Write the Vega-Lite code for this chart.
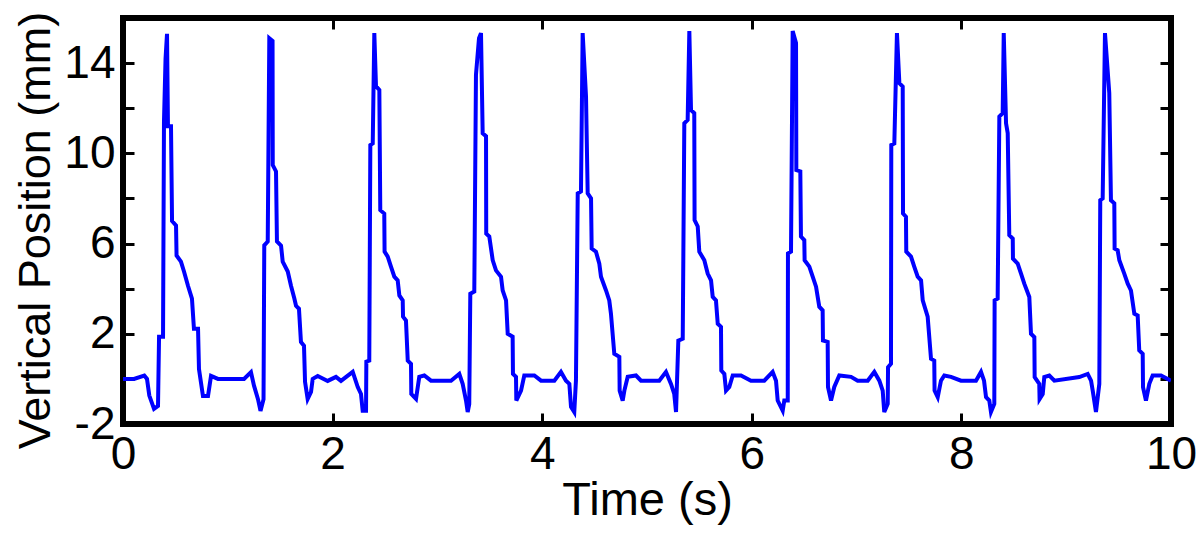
{
  "$schema": "https://vega.github.io/schema/vega-lite/v6.json",
  "autosize": "none",
  "width": 1048,
  "height": 406,
  "padding": {"left": 123, "top": 18, "right": 29, "bottom": 112},
  "background": "white",
  "config": {
    "view": {"stroke": "black", "strokeWidth": 6},
    "font": "Liberation Sans",
    "axis": {
      "domain": false,
      "grid": false,
      "tickColor": "black",
      "tickWidth": 3,
      "tickSize": -11,
      "labelColor": "black",
      "labelFont": "Liberation Sans",
      "labelFontSize": 46,
      "titleFont": "Liberation Sans",
      "titleFontSize": 47,
      "titleFontWeight": "normal",
      "titleColor": "black",
      "labelFlush": false,
      "labelOverlap": false
    }
  },
  "data": {
    "values": [
      {"t": 0, "v": 0}, {"t": 0.105, "v": 0}, {"t": 0.203, "v": 0.15}, {"t": 0.229, "v": 0},
      {"t": 0.251, "v": -0.74}, {"t": 0.296, "v": -1.33}, {"t": 0.334, "v": -1.2}, {"t": 0.344, "v": 1.87},
      {"t": 0.382, "v": 1.87}, {"t": 0.391, "v": 11.4}, {"t": 0.406, "v": 14.2}, {"t": 0.42, "v": 15.3},
      {"t": 0.429, "v": 11.2}, {"t": 0.458, "v": 11.2}, {"t": 0.468, "v": 7.0}, {"t": 0.506, "v": 6.8},
      {"t": 0.511, "v": 5.47}, {"t": 0.553, "v": 5.2}, {"t": 0.582, "v": 4.76}, {"t": 0.62, "v": 4.13},
      {"t": 0.658, "v": 3.56}, {"t": 0.677, "v": 2.22}, {"t": 0.716, "v": 2.22}, {"t": 0.725, "v": 0.44},
      {"t": 0.763, "v": -0.76}, {"t": 0.811, "v": -0.76}, {"t": 0.84, "v": 0.13}, {"t": 0.906, "v": 0},
      {"t": 1.155, "v": 0}, {"t": 1.221, "v": 0.3}, {"t": 1.25, "v": -0.3}, {"t": 1.288, "v": -0.9},
      {"t": 1.312, "v": -1.42}, {"t": 1.341, "v": -0.9}, {"t": 1.348, "v": 5.92}, {"t": 1.381, "v": 6.09},
      {"t": 1.396, "v": 15.1}, {"t": 1.427, "v": 14.98}, {"t": 1.429, "v": 9.48}, {"t": 1.46, "v": 9.2},
      {"t": 1.469, "v": 6.09}, {"t": 1.508, "v": 5.91}, {"t": 1.524, "v": 5.2}, {"t": 1.572, "v": 4.76},
      {"t": 1.603, "v": 4.13}, {"t": 1.635, "v": 3.56}, {"t": 1.651, "v": 3.24}, {"t": 1.679, "v": 3.11},
      {"t": 1.698, "v": 1.64}, {"t": 1.727, "v": 1.47}, {"t": 1.737, "v": -0.13}, {"t": 1.762, "v": -0.89},
      {"t": 1.794, "v": -0.58}, {"t": 1.81, "v": 0}, {"t": 1.858, "v": 0.13}, {"t": 1.953, "v": -0.09},
      {"t": 2.032, "v": 0.09}, {"t": 2.08, "v": -0.09}, {"t": 2.192, "v": 0.31}, {"t": 2.24, "v": -0.36},
      {"t": 2.271, "v": -0.67}, {"t": 2.287, "v": -1.41}, {"t": 2.319, "v": -1.41}, {"t": 2.322, "v": 0.76},
      {"t": 2.35, "v": 0.81}, {"t": 2.36, "v": 10.37}, {"t": 2.383, "v": 10.44}, {"t": 2.398, "v": 15.33},
      {"t": 2.414, "v": 12.98}, {"t": 2.446, "v": 12.81}, {"t": 2.455, "v": 7.48}, {"t": 2.493, "v": 7.33},
      {"t": 2.496, "v": 5.64}, {"t": 2.526, "v": 5.42}, {"t": 2.557, "v": 4.98}, {"t": 2.589, "v": 4.53},
      {"t": 2.621, "v": 4.37}, {"t": 2.637, "v": 3.7}, {"t": 2.669, "v": 3.48}, {"t": 2.672, "v": 2.76},
      {"t": 2.7, "v": 2.59}, {"t": 2.717, "v": 0.81}, {"t": 2.748, "v": 0.67}, {"t": 2.751, "v": -0.67},
      {"t": 2.796, "v": -0.89}, {"t": 2.827, "v": 0.09}, {"t": 2.875, "v": 0.15}, {"t": 2.939, "v": -0.08},
      {"t": 3.13, "v": -0.08}, {"t": 3.209, "v": 0.22}, {"t": 3.241, "v": -0.22}, {"t": 3.273, "v": -0.96},
      {"t": 3.289, "v": -1.47}, {"t": 3.304, "v": -1.11}, {"t": 3.314, "v": 3.78}, {"t": 3.352, "v": 3.87},
      {"t": 3.368, "v": 13.48}, {"t": 3.397, "v": 15.1}, {"t": 3.416, "v": 15.33}, {"t": 3.432, "v": 10.89},
      {"t": 3.464, "v": 10.76}, {"t": 3.466, "v": 6.44}, {"t": 3.495, "v": 6.31}, {"t": 3.528, "v": 5.26},
      {"t": 3.559, "v": 4.81}, {"t": 3.607, "v": 4.53}, {"t": 3.623, "v": 3.92}, {"t": 3.655, "v": 3.48},
      {"t": 3.671, "v": 2.0}, {"t": 3.718, "v": 1.87}, {"t": 3.721, "v": 0.22}, {"t": 3.75, "v": 0.09},
      {"t": 3.753, "v": -0.96}, {"t": 3.798, "v": -0.52}, {"t": 3.829, "v": 0.15}, {"t": 3.925, "v": 0.15},
      {"t": 3.989, "v": -0.08}, {"t": 4.116, "v": -0.08}, {"t": 4.179, "v": 0.31}, {"t": 4.227, "v": -0.08},
      {"t": 4.259, "v": -0.22}, {"t": 4.275, "v": -1.24}, {"t": 4.306, "v": -1.47}, {"t": 4.322, "v": -0.08},
      {"t": 4.339, "v": 8.22}, {"t": 4.37, "v": 8.31}, {"t": 4.386, "v": 15.33}, {"t": 4.418, "v": 12.53},
      {"t": 4.434, "v": 8.22}, {"t": 4.466, "v": 8.0}, {"t": 4.472, "v": 5.78}, {"t": 4.513, "v": 5.64},
      {"t": 4.545, "v": 5.11}, {"t": 4.561, "v": 4.53}, {"t": 4.609, "v": 3.92}, {"t": 4.64, "v": 3.48},
      {"t": 4.656, "v": 2.89}, {"t": 4.688, "v": 1.11}, {"t": 4.736, "v": 0.98}, {"t": 4.739, "v": -0.52},
      {"t": 4.768, "v": -0.96}, {"t": 4.784, "v": -0.52}, {"t": 4.816, "v": 0.09}, {"t": 4.895, "v": 0.15},
      {"t": 4.943, "v": -0.08}, {"t": 5.117, "v": -0.08}, {"t": 5.181, "v": 0.31}, {"t": 5.229, "v": -0.22},
      {"t": 5.26, "v": -0.67}, {"t": 5.277, "v": -1.47}, {"t": 5.299, "v": 1.7}, {"t": 5.341, "v": 1.78},
      {"t": 5.356, "v": 11.33}, {"t": 5.388, "v": 11.48}, {"t": 5.404, "v": 15.42}, {"t": 5.42, "v": 11.92},
      {"t": 5.451, "v": 11.78}, {"t": 5.454, "v": 7.04}, {"t": 5.484, "v": 6.76}, {"t": 5.499, "v": 5.64},
      {"t": 5.547, "v": 5.26}, {"t": 5.579, "v": 4.67}, {"t": 5.611, "v": 4.37}, {"t": 5.627, "v": 3.64},
      {"t": 5.658, "v": 3.48}, {"t": 5.675, "v": 2.44}, {"t": 5.706, "v": 2.31}, {"t": 5.709, "v": 0.37},
      {"t": 5.738, "v": 0.22}, {"t": 5.754, "v": -0.52}, {"t": 5.785, "v": -0.36}, {"t": 5.818, "v": 0.15},
      {"t": 5.897, "v": 0.15}, {"t": 5.992, "v": -0.08}, {"t": 6.119, "v": -0.08}, {"t": 6.199, "v": 0.31},
      {"t": 6.231, "v": -0.08}, {"t": 6.247, "v": -0.96}, {"t": 6.295, "v": -1.41}, {"t": 6.31, "v": -0.96},
      {"t": 6.343, "v": -0.96}, {"t": 6.345, "v": 5.56}, {"t": 6.374, "v": 5.64}, {"t": 6.39, "v": 15.42},
      {"t": 6.422, "v": 14.89}, {"t": 6.425, "v": 9.26}, {"t": 6.463, "v": 9.2}, {"t": 6.469, "v": 6.31},
      {"t": 6.501, "v": 6.15}, {"t": 6.504, "v": 5.26}, {"t": 6.549, "v": 4.98}, {"t": 6.581, "v": 4.53},
      {"t": 6.613, "v": 4.09}, {"t": 6.644, "v": 3.2}, {"t": 6.676, "v": 3.04}, {"t": 6.679, "v": 1.7},
      {"t": 6.724, "v": 1.64}, {"t": 6.727, "v": -0.36}, {"t": 6.756, "v": -0.96}, {"t": 6.787, "v": -0.36},
      {"t": 6.835, "v": 0.15}, {"t": 6.947, "v": 0.09}, {"t": 7.01, "v": -0.08}, {"t": 7.106, "v": -0.08},
      {"t": 7.169, "v": 0.31}, {"t": 7.217, "v": -0.08}, {"t": 7.249, "v": -0.52}, {"t": 7.264, "v": -1.47},
      {"t": 7.297, "v": -1.11}, {"t": 7.3, "v": 0.52}, {"t": 7.328, "v": 0.67}, {"t": 7.331, "v": 10.37},
      {"t": 7.36, "v": 10.44}, {"t": 7.385, "v": 15.33}, {"t": 7.408, "v": 13.11}, {"t": 7.44, "v": 12.96},
      {"t": 7.443, "v": 7.33}, {"t": 7.471, "v": 7.19}, {"t": 7.474, "v": 5.64}, {"t": 7.519, "v": 5.42},
      {"t": 7.55, "v": 4.98}, {"t": 7.583, "v": 4.53}, {"t": 7.615, "v": 4.37}, {"t": 7.631, "v": 3.48},
      {"t": 7.678, "v": 2.76}, {"t": 7.71, "v": 0.89}, {"t": 7.741, "v": 0.81}, {"t": 7.744, "v": -0.52},
      {"t": 7.774, "v": -0.81}, {"t": 7.805, "v": -0.08}, {"t": 7.837, "v": 0.15}, {"t": 7.901, "v": 0.09},
      {"t": 7.996, "v": -0.08}, {"t": 8.139, "v": -0.08}, {"t": 8.187, "v": 0.31}, {"t": 8.216, "v": -0.08},
      {"t": 8.235, "v": -0.81}, {"t": 8.266, "v": -0.96}, {"t": 8.282, "v": -1.47}, {"t": 8.314, "v": -1.11},
      {"t": 8.317, "v": 3.48}, {"t": 8.346, "v": 3.56}, {"t": 8.362, "v": 11.63}, {"t": 8.394, "v": 11.78},
      {"t": 8.404, "v": 15.33}, {"t": 8.426, "v": 11.33}, {"t": 8.442, "v": 10.89}, {"t": 8.457, "v": 6.37},
      {"t": 8.49, "v": 6.22}, {"t": 8.492, "v": 5.33}, {"t": 8.537, "v": 5.11}, {"t": 8.569, "v": 4.67},
      {"t": 8.6, "v": 4.22}, {"t": 8.648, "v": 3.63}, {"t": 8.664, "v": 2.0}, {"t": 8.696, "v": 1.85},
      {"t": 8.699, "v": 0.08}, {"t": 8.743, "v": -0.22}, {"t": 8.746, "v": -0.89}, {"t": 8.776, "v": -0.67},
      {"t": 8.791, "v": 0.08}, {"t": 8.839, "v": 0.15}, {"t": 8.887, "v": -0.08}, {"t": 9.125, "v": 0.08},
      {"t": 9.205, "v": 0.22}, {"t": 9.237, "v": -0.08}, {"t": 9.253, "v": -0.52}, {"t": 9.284, "v": -1.47},
      {"t": 9.316, "v": -0.22}, {"t": 9.325, "v": 7.92}, {"t": 9.348, "v": 8.0}, {"t": 9.37, "v": 15.33},
      {"t": 9.411, "v": 12.67}, {"t": 9.427, "v": 7.92}, {"t": 9.459, "v": 7.78}, {"t": 9.462, "v": 5.78},
      {"t": 9.491, "v": 5.7}, {"t": 9.507, "v": 5.26}, {"t": 9.554, "v": 4.67}, {"t": 9.587, "v": 4.22},
      {"t": 9.618, "v": 3.92}, {"t": 9.65, "v": 2.89}, {"t": 9.682, "v": 2.81}, {"t": 9.697, "v": 1.26},
      {"t": 9.73, "v": 1.11}, {"t": 9.733, "v": -0.37}, {"t": 9.761, "v": -0.96}, {"t": 9.793, "v": -0.22},
      {"t": 9.825, "v": 0.15}, {"t": 9.905, "v": 0.15}, {"t": 10.0, "v": -0.08}
    ]
  },
  "resolve": {"scale": {"x": "independent", "y": "independent"}, "axis": {"x": "independent", "y": "independent"}},
  "layer": [
    {
      "mark": {"type": "line", "color": "#0000ff", "strokeWidth": 4, "clip": true},
      "encoding": {
        "x": {
          "field": "t", "type": "quantitative",
          "scale": {"domain": [0, 10], "nice": false, "zero": false},
          "axis": {"orient": "bottom", "title": "Time (s)", "values": [0, 2, 4, 6, 8, 10], "format": "d", "labelPadding": 19, "titlePadding": 0}
        },
        "y": {
          "field": "v", "type": "quantitative",
          "scale": {"domain": [-2, 16], "nice": false, "zero": false},
          "axis": {"orient": "left", "title": "Vertical Position (mm)", "titleFontSize": 45, "values": [-2, 0, 2, 4, 6, 8, 10, 12, 14], "labelExpr": "(datum.value + 2) % 4 == 0 ? toString(datum.value) : ''", "labelPadding": 19, "titlePadding": 5, "titleY": 212}
        }
      }
    },
    {
      "mark": {"type": "line", "strokeOpacity": 0},
      "encoding": {
        "x": {
          "field": "t", "type": "quantitative",
          "scale": {"domain": [0, 10], "nice": false, "zero": false},
          "axis": {"orient": "top", "title": null, "labels": false, "values": [2, 4, 6, 8]}
        },
        "y": {
          "field": "v", "type": "quantitative",
          "scale": {"domain": [-2, 16], "nice": false, "zero": false},
          "axis": {"orient": "right", "title": null, "labels": false, "values": [0, 2, 4, 6, 8, 10, 12, 14]}
        }
      }
    }
  ]
}
